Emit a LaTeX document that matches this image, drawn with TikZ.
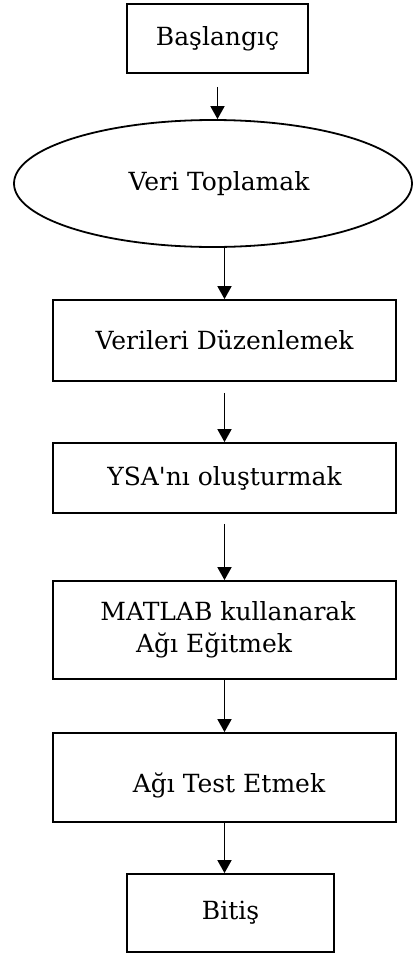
\documentclass[tikz,border=0pt]{standalone}
\usepackage{fontspec}
\setmainfont{DejaVu Serif}
\usetikzlibrary{shapes.geometric,arrows.meta}
\begin{document}
\begin{tikzpicture}[
  x=1pt, y=-1pt,
  stepbox/.style={draw, line width=1.8pt, minimum height=70pt, minimum width=343pt, align=center, font=\fontsize{25}{32}\selectfont, inner sep=0pt},
  oval/.style={draw, ellipse, line width=1.8pt, inner sep=0pt, font=\fontsize{25}{32}\selectfont},
  flow/.style={line width=1.8pt, -{Triangle[width=14pt,length=13pt]}}
]
\useasboundingbox (0,0) rectangle (415,956);
\node[stepbox, minimum width=181pt, minimum height=69pt] (basla) at (217.5,38.5) {Başlangıç};
\node[oval, minimum width=398pt, minimum height=127pt] (veri) at (213,183.5) {\hspace*{12pt}Veri Toplamak};
\node[stepbox, minimum height=81pt] (duzen) at (224.5,340.5) {Verileri Düzenlemek};
\node[stepbox] (ysa) at (224.5,478) {YSA\textquotesingle nı oluşturmak};
\node[stepbox, minimum height=98pt] (egit) at (224.5,630) {\hspace*{7pt}MATLAB kullanarak\\Ağı Eğitmek\hspace*{21pt}};
\node[stepbox, minimum height=89pt, text height=36pt, text depth=6pt] (test) at (224.5,777.5) {\hspace*{9pt}Ağı Test Etmek};
\node[stepbox, minimum width=207pt, minimum height=78pt] (bitis) at (230.5,913) {Bitiş};
% oklar
\draw[flow, shorten <=13pt] (basla.south) -- (basla.south |- veri.north);
\draw[flow] (duzen.north |- veri.south) -- (duzen.north);
\draw[flow, shorten <=11pt] (duzen.south) -- (ysa.north);
\draw[flow, shorten <=10pt] (ysa.south) -- (egit.north);
\draw[flow] (egit.south) -- (test.north);
\draw[flow] (test.south) -- (test.south |- bitis.north);
\end{tikzpicture}
\end{document}
